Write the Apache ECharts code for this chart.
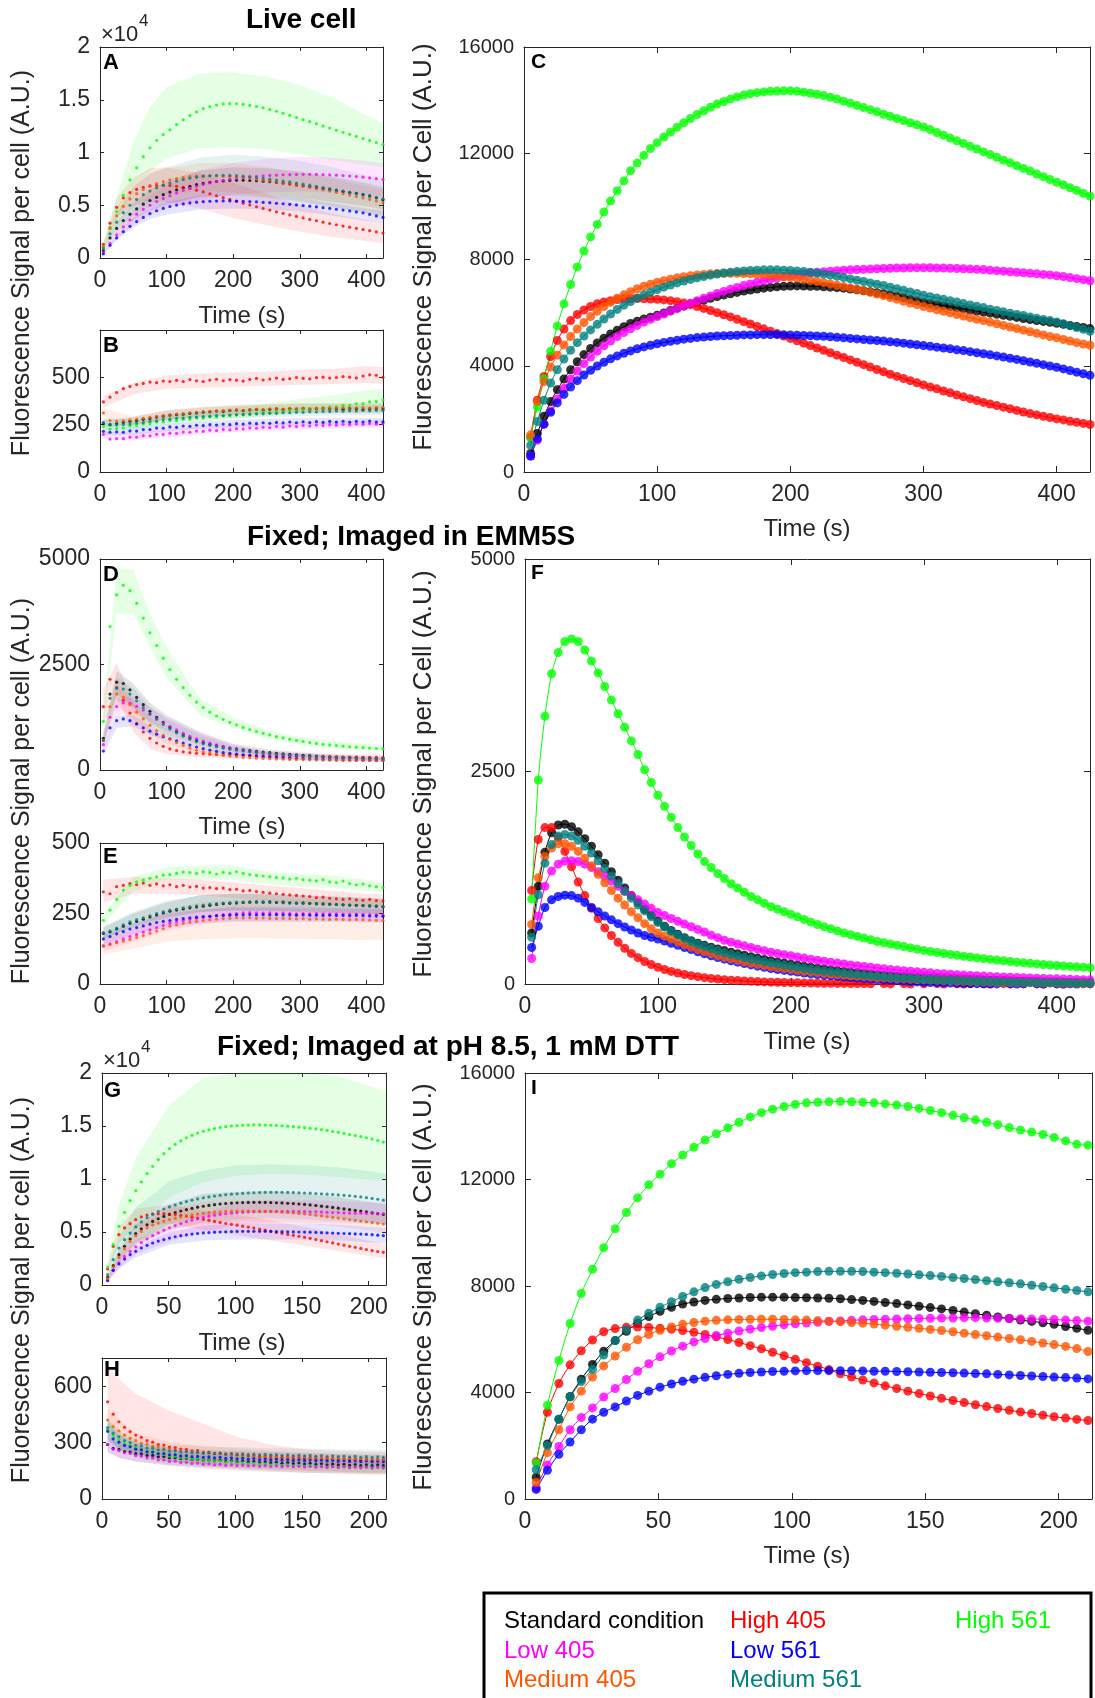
<!DOCTYPE html>
<html><head><meta charset="utf-8">
<script src="https://cdn.jsdelivr.net/npm/echarts/dist/echarts.min.js"></script>
<style>html,body{margin:0;padding:0;background:#fff}#c{width:1095px;height:1698px}</style>
</head><body><div id="c"></div><script>
// ---------- time grids ----------
const T5 = [5,10,15,20,25,30,35,40,45,50,55,60,65,70,75,80,85,90,95,100,105,110,115,120,125,130,135,140,145,150,155,160,165,170,175,180,185,190,195,200,205,210,215,220,225,230,235,240,245,250,255,260,265,270,275,280,285,290,295,300,305,310,315,320,325,330,335,340,345,350,355,360,365,370,375,380,385,390,395,400,405,410,415,420,425];
const T10 = [5,15,25,35,45,55,65,75,85,95,105,115,125,135,145,155,165,175,185,195,205,215,225,235,245,255,265,275,285,295,305,315,325,335,345,355,365,375,385,395,405,415,425];
const T42 = [4.2,8.4,12.7,16.9,21.1,25.3,29.5,33.8,38,42.2,46.4,50.6,54.9,59.1,63.3,67.5,71.7,76,80.2,84.4,88.6,92.8,97.1,101.3,105.5,109.7,113.9,118.2,122.4,126.6,130.8,135,139.3,143.5,147.7,151.9,156.1,160.4,164.6,168.8,173,177.2,181.5,185.7,189.9,194.1,198.3,202.6,206.8,211];
const BT12 = [5,25,50,75,100,150,200,250,300,350,400,425];
const BT10 = [5,50,100,150,200,250,300,350,400,425];
const BT11 = [4.2,12.7,25.3,50.6,76,101.3,126.6,151.9,177.2,202.6,213];

// ---------- Panel A: live cell, mean signal ----------
const A_BLACK = [700,1900,2800,3550,4150,4650,5100,5450,5750,6000,6250,6450,6650,6800,6950,7070,7170,7250,7310,7350,7370,7370,7350,7320,7280,7230,7170,7100,7020,6930,6850,6760,6670,6580,6490,6390,6300,6200,6120,6000,5880,5700,5520];
const A_RED = [1300,3300,4800,5700,6200,6500,6700,6830,6890,6900,6870,6800,6700,6580,6430,6260,6080,5900,5720,5550,5370,5200,5030,4860,4700,4540,4380,4230,4080,3940,3800,3660,3530,3400,3270,3150,3030,2920,2810,2700,2590,2480,2370];
const A_GREEN = [1000,2900,4400,5950,7400,8550,9600,10450,11150,11700,12150,12650,13100,13500,13850,14150,14350,14500,14600,14630,14620,14560,14470,14360,14230,14080,13910,13720,13520,13310,13110,12920,12730,12520,12320,12110,11910,11720,11530,11320,11130,10950,10770];
const A_MAGENTA = [500,1400,2200,2950,3600,4150,4600,5000,5350,5650,5900,6150,6400,6600,6800,6970,7120,7250,7370,7470,7560,7630,7690,7740,7790,7830,7860,7890,7910,7920,7930,7930,7920,7900,7880,7850,7810,7770,7720,7660,7590,7520,7450];
const A_BLUE = [400,1200,1900,2500,3000,3450,3850,4200,4480,4700,4880,5020,5130,5220,5290,5340,5380,5400,5410,5410,5400,5380,5350,5320,5280,5240,5190,5140,5090,5030,4970,4910,4840,4770,4700,4620,4540,4460,4370,4280,4130,3990,3850];
const A_ORANGE = [1100,2800,4000,4900,5600,6100,6500,6800,7050,7250,7400,7530,7630,7710,7760,7790,7800,7790,7760,7720,7670,7610,7540,7460,7380,7290,7200,7100,7000,6900,6800,6690,6580,6460,6340,6220,6090,5960,5830,5690,5550,5400,5250];
const A_TEAL = [900,2300,3400,4300,5000,5550,6000,6350,6650,6900,7100,7280,7430,7560,7660,7740,7790,7820,7840,7830,7800,7760,7700,7630,7550,7470,7390,7300,7210,7110,7010,6900,6790,6680,6570,6460,6350,6230,6110,5990,5860,5730,5600];
const A_BLACK_LO = [600,2400,3600,4500,5000,5800,6100,6000,5700,5300,4900,4600];
const A_BLACK_HI = [800,3400,5200,6500,7300,8300,8600,8500,8200,7700,7100,6700];
const A_RED_LO = [1100,3900,5000,5300,5300,4700,3800,3100,2500,2000,1600,1400];
const A_RED_HI = [1500,5700,7600,8500,8600,8000,7100,6100,5000,4200,3600,3300];
const A_GREEN_LO = [700,3500,6200,8200,9400,10400,10500,10300,9800,9300,8800,8600];
const A_GREEN_HI = [1300,5800,11000,14300,16200,17500,17600,17200,16400,15200,13500,12800];
const A_MAGENTA_LO = [400,1800,3100,4100,4700,5500,6000,6200,6300,6200,6000,5800];
const A_MAGENTA_HI = [600,2600,4500,5900,6900,8300,9000,9400,9600,9500,9200,9000];
const A_BLUE_LO = [300,1700,2900,3700,4100,4600,4700,4600,4400,4000,3500,3300];
const A_BLUE_HI = [500,2200,3800,4700,5300,5900,6100,6000,5700,5200,4700,4500];
const A_ORANGE_LO = [900,3200,4800,5600,6000,6400,6200,5800,5400,4800,4200,3900];
const A_ORANGE_HI = [1300,4800,6800,8000,8500,9000,9000,8600,8100,7500,6800,6500];
const A_TEAL_LO = [800,2800,4000,4800,5200,5800,5900,5700,5300,4800,4300,4000];
const A_TEAL_HI = [1100,4200,6600,8000,8600,9500,9800,9600,9200,8600,7800,7300];

// ---------- Panel B: live cell, background ----------
const B_BLACK = [255,250,255,262,268,272,278,283,290,295,300,303,305,310,312,316,318,322,320,325,327,324,328,330,327,331,333,330,334,332,335,331,334,336,333,335,332,336,334,330,333,335,333];
const B_RED = [370,395,420,440,452,462,468,475,472,480,478,484,478,488,482,478,486,490,482,488,485,480,489,494,486,491,496,489,493,499,495,492,498,501,496,499,504,501,497,507,513,511,500];
const B_GREEN = [240,226,230,233,244,246,254,256,264,264,272,271,279,278,286,285,292,291,298,297,303,302,309,308,315,314,320,319,326,325,332,331,338,337,344,344,352,352,360,361,370,372,380];
const B_MAGENTA = [198,174,176,176,184,184,192,191,199,198,205,204,211,210,216,215,221,219,225,223,229,227,233,231,236,234,240,237,243,240,245,243,248,245,250,247,252,249,254,251,256,253,256];
const B_BLUE = [215,210,212,210,217,216,224,224,232,231,238,236,243,241,247,245,250,248,253,250,255,253,258,255,260,257,262,259,264,260,265,261,266,262,267,263,268,263,268,264,269,264,265];
const B_ORANGE = [312,272,268,270,275,280,284,288,294,298,300,306,308,312,315,318,320,322,324,326,328,326,330,332,329,333,335,332,336,334,338,335,337,339,336,338,340,337,339,341,338,340,342];
const B_TEAL = [262,250,249,252,253,259,261,268,270,277,279,284,285,289,290,293,294,298,297,301,302,304,304,307,307,310,310,313,313,316,315,318,317,320,319,322,321,323,322,325,323,326,325];
const B_BLACK_LO = [235,245,275,290,300,305,310,310,310,310];
const B_BLACK_HI = [275,290,325,340,350,355,360,360,360,360];
const B_RED_LO = [340,410,440,445,450,455,460,465,470,465];
const B_RED_HI = [400,470,510,520,525,530,540,545,560,555];
const B_GREEN_LO = [220,225,245,265,280,295,310,320,330,335];
const B_GREEN_HI = [260,270,295,320,340,360,385,405,430,440];
const B_MAGENTA_LO = [175,165,185,200,210,218,225,230,235,235];
const B_MAGENTA_HI = [215,205,225,240,250,258,265,270,275,275];
const B_BLUE_LO = [195,195,215,228,235,240,245,245,245,245];
const B_BLUE_HI = [235,235,255,268,275,280,285,285,285,285];
const B_ORANGE_LO = [290,250,280,295,305,310,315,315,318,320];
const B_ORANGE_HI = [335,295,325,345,355,360,365,365,368,370];
const B_TEAL_LO = [240,230,260,275,285,290,295,298,300,300];
const B_TEAL_HI = [285,275,305,320,330,335,340,345,348,350];

// ---------- Panel C: live cell, fitted ----------
const C_BLACK = [700,1450,2100,2650,3100,3500,3850,4150,4420,4650,4860,5040,5200,5340,5470,5590,5680,5760,5830,5900,5990,6080,6170,6250,6330,6400,6470,6540,6600,6660,6710,6760,6810,6850,6890,6920,6950,6970,6990,7000,7005,7000,6995,6990,6975,6960,6940,6920,6890,6860,6825,6790,6750,6710,6665,6620,6560,6500,6440,6380,6340,6300,6260,6220,6180,6140,6100,6060,6020,5980,5940,5900,5860,5820,5780,5740,5705,5670,5635,5600,5560,5520,5480,5440,5400];
const C_RED = [1300,2700,3600,4350,4950,5380,5700,5930,6100,6230,6330,6400,6450,6490,6520,6530,6530,6520,6510,6500,6480,6450,6410,6360,6300,6230,6160,6080,6000,5920,5840,5750,5660,5570,5480,5390,5300,5210,5120,5030,4940,4850,4760,4670,4580,4490,4400,4310,4220,4130,4040,3950,3860,3770,3680,3600,3520,3440,3360,3280,3200,3130,3050,2980,2900,2830,2760,2690,2620,2560,2500,2440,2380,2320,2260,2200,2150,2100,2050,2000,1960,1910,1870,1830,1790];
const C_GREEN = [1300,2450,3500,4550,5500,6330,7060,7720,8320,8850,9320,9790,10200,10590,10960,11340,11630,11920,12180,12400,12610,12800,12980,13150,13310,13460,13600,13730,13850,13950,14040,14120,14190,14240,14280,14310,14330,14340,14350,14350,14330,14300,14260,14220,14170,14110,14040,13960,13880,13800,13720,13640,13560,13470,13390,13310,13230,13150,13070,12990,12890,12780,12680,12570,12470,12370,12260,12160,12050,11950,11850,11740,11640,11530,11430,11330,11220,11120,11010,10910,10810,10700,10600,10490,10390];
const C_MAGENTA = [600,1200,1800,2300,2750,3150,3500,3800,4080,4330,4550,4750,4930,5100,5250,5390,5520,5640,5750,5850,5950,6050,6150,6250,6350,6450,6540,6630,6720,6800,6880,6950,7020,7080,7140,7200,7250,7300,7350,7390,7430,7460,7490,7520,7540,7560,7580,7600,7610,7620,7630,7640,7650,7660,7670,7680,7680,7690,7690,7690,7690,7680,7680,7670,7660,7650,7640,7630,7620,7600,7580,7560,7540,7520,7500,7480,7460,7440,7420,7390,7360,7320,7280,7240,7200];
const C_BLUE = [600,1250,1800,2250,2600,2920,3200,3440,3650,3830,3990,4130,4260,4370,4470,4560,4640,4710,4770,4830,4880,4920,4960,5000,5030,5060,5080,5100,5120,5130,5140,5150,5160,5160,5170,5170,5170,5170,5170,5160,5150,5140,5130,5120,5110,5090,5070,5050,5030,5010,4990,4970,4950,4930,4900,4880,4850,4820,4790,4760,4730,4700,4670,4640,4600,4570,4530,4490,4450,4410,4370,4330,4280,4240,4190,4140,4090,4040,3990,3940,3880,3820,3760,3700,3640];
const C_ORANGE = [1400,2650,3400,3950,4400,4780,5100,5380,5630,5850,6050,6230,6390,6540,6670,6790,6900,6990,7070,7140,7200,7260,7310,7350,7390,7420,7440,7460,7470,7480,7480,7480,7470,7460,7450,7430,7410,7390,7360,7330,7300,7260,7220,7180,7130,7080,7030,6980,6930,6880,6820,6760,6700,6640,6570,6500,6430,6360,6300,6230,6170,6110,6050,5990,5930,5870,5810,5750,5700,5640,5580,5520,5460,5400,5340,5280,5220,5160,5100,5050,4990,4930,4870,4820,4770];
const C_TEAL = [1000,1900,2700,3350,3850,4250,4580,4870,5120,5350,5560,5760,5950,6120,6280,6420,6550,6670,6770,6870,6960,7040,7120,7190,7250,7310,7360,7410,7450,7490,7520,7550,7570,7590,7600,7610,7610,7610,7600,7590,7570,7550,7520,7490,7450,7410,7370,7320,7270,7220,7170,7120,7070,7020,6960,6900,6840,6780,6720,6650,6600,6550,6500,6450,6400,6340,6290,6240,6190,6130,6080,6030,5980,5930,5890,5840,5790,5740,5700,5650,5580,5510,5440,5370,5300];

// ---------- Panel D: EMM5S, mean signal ----------
const D_BLACK = [750,1800,2080,2050,1900,1720,1550,1390,1250,1130,1010,910,830,760,700,650,610,580,550,520,500,480,460,440,425,410,395,380,370,360,350,340,330,320,310,305,300,295,290,285,280,275,270];
const D_RED = [1500,2150,1950,1650,1350,1100,900,750,640,560,500,460,430,410,395,385,375,368,362,357,352,348,344,340,337,334,331,328,325,322,320,318,316,314,312,310,308,306,304,302,300,298,296];
const D_GREEN = [1150,3400,4150,4380,4250,3950,3600,3250,2950,2650,2380,2150,1950,1770,1610,1480,1370,1280,1200,1130,1070,1010,960,910,870,830,790,760,730,700,675,650,630,610,595,580,565,550,540,530,520,510,500];
const D_MAGENTA = [600,1250,1500,1590,1580,1510,1420,1320,1220,1120,1030,950,870,800,740,685,635,595,555,520,490,465,440,420,400,385,370,357,345,335,325,317,310,303,297,292,287,283,279,276,273,270,268];
const D_BLUE = [450,1000,1170,1210,1170,1090,1000,920,850,790,740,690,640,590,545,505,470,440,415,395,375,360,345,330,318,307,297,288,280,273,266,260,255,250,246,242,239,236,233,231,229,227,225];
const D_ORANGE = [700,1500,1800,1720,1550,1370,1210,1060,930,820,730,650,580,520,470,430,400,370,350,330,315,300,290,280,272,265,260,255,250,247,244,241,238,236,234,232,230,229,228,227,226,225,225];
const D_TEAL = [700,1700,1940,1920,1800,1640,1480,1330,1200,1080,970,880,800,730,670,620,580,545,515,490,470,450,430,415,400,385,370,360,350,340,330,322,315,308,300,295,290,285,280,276,272,268,265];
const D_BLACK_LO = [600,1800,1500,1100,900,620,440,360,310,270,250,240];
const D_BLACK_HI = [900,2350,2050,1600,1300,900,620,500,420,360,330,320];
const D_RED_LO = [1100,1700,900,500,380,300,270,250,240,230,220,220];
const D_RED_HI = [1900,2550,1600,1000,700,500,450,420,400,380,370,370];
const D_GREEN_LO = [1000,3700,3700,2900,2200,1300,1000,750,600,520,480,460];
const D_GREEN_HI = [1300,4800,4750,3700,2900,1700,1250,950,780,680,620,600];
const D_MAGENTA_LO = [450,1300,1350,1150,950,650,450,360,310,270,250,245];
const D_MAGENTA_HI = [750,1700,1750,1500,1250,880,600,450,380,330,300,295];
const D_BLUE_LO = [350,1000,1030,830,700,500,340,280,240,215,200,195];
const D_BLUE_HI = [550,1300,1300,1050,880,640,440,360,310,270,250,245];
const D_ORANGE_LO = [550,1550,1200,850,620,400,290,250,220,205,200,200];
const D_ORANGE_HI = [850,2000,1650,1250,950,620,400,330,290,270,260,255];
const D_TEAL_LO = [550,1650,1450,1050,850,580,420,340,295,265,250,240];
const D_TEAL_HI = [850,2200,1950,1500,1200,830,560,450,380,330,305,295];

// ---------- Panel E: EMM5S, background ----------
const E_BLACK = [179,185,195,205,215,222,230,238,245,252,258,262,266,270,273,276,279,282,285,286,287,289,290,291,290,291,289,290,288,287,288,286,285,284,283,282,281,280,279,278,277,276,274];
const E_RED = [327,320,345,350,356,352,358,350,355,348,352,345,350,344,346,340,342,338,340,335,336,330,332,328,325,322,320,318,316,314,312,310,306,308,304,302,300,302,298,297,300,296,294];
const E_GREEN = [226,262,300,333,350,362,368,375,380,386,388,392,397,395,392,398,395,390,396,393,398,392,388,385,383,380,378,376,372,375,370,368,366,370,362,360,365,356,352,355,348,345,342];
const E_MAGENTA = [135,142,150,160,168,175,184,192,200,208,215,220,225,229,233,236,240,243,246,248,250,252,253,252,251,252,250,251,250,249,250,249,250,249,248,249,248,247,248,247,246,246,245];
const E_BLUE = [160,168,178,186,195,200,206,212,218,222,225,229,232,235,237,239,240,242,243,244,245,245,246,245,246,245,246,245,245,244,245,244,244,243,244,243,243,242,243,242,241,241,240];
const E_ORANGE = [135,140,146,152,158,165,172,180,188,196,205,210,215,219,222,225,228,230,232,233,235,234,235,233,234,233,232,233,232,231,232,230,231,230,229,230,229,228,229,228,227,226,225];
const E_TEAL = [182,188,198,210,220,228,235,242,250,256,262,266,270,274,277,280,283,285,287,288,290,290,291,290,290,289,289,288,287,286,285,285,284,283,282,281,280,279,278,278,277,276,275];
const E_BLACK_LO = [160,200,235,255,260,258,255,250,248,245];
const E_BLACK_HI = [200,250,290,315,320,318,315,310,305,302];
const E_RED_LO = [290,320,320,315,305,295,285,280,275,275];
const E_RED_HI = [370,380,375,370,360,350,340,330,320,318];
const E_GREEN_LO = [210,330,370,370,370,355,345,340,330,325];
const E_GREEN_HI = [245,380,415,420,420,400,390,385,370,360];
const E_MAGENTA_LO = [115,150,190,210,225,225,225,225,222,220];
const E_MAGENTA_HI = [160,195,240,260,275,275,275,272,270,270];
const E_BLUE_LO = [140,175,200,215,220,220,220,220,218,218];
const E_BLUE_HI = [180,215,250,265,270,270,268,268,265,265];
const E_ORANGE_LO = [105,125,150,158,162,162,160,158,155,155];
const E_ORANGE_HI = [170,205,260,290,300,300,300,298,296,295];
const E_TEAL_LO = [160,205,240,255,262,260,258,255,252,250];
const E_TEAL_HI = [205,255,295,315,320,320,315,310,305,302];

// ---------- Panel F: EMM5S, fitted ----------
const F_BLACK = [600,1150,1550,1780,1870,1880,1850,1790,1710,1620,1520,1420,1320,1220,1130,1040,960,880,810,740,680,630,585,545,510,480,455,432,412,393,374,356,338,321,305,289,274,260,246,233,220,208,197,186,176,166,157,148,140,132,124,117,110,104,98,92,87,82,77,73,69,65,61,58,55,52,49,46,44,41,39,37,35,33,31,29,28,26,25,23,22,21,20,19,18];
const F_RED = [1100,1700,1840,1840,1720,1560,1380,1200,1040,890,770,660,570,490,420,360,310,265,228,196,170,148,128,112,98,86,75,66,58,51,45,40,35,31,28,25,22,20,18,16,14,13,11,10,9,8,7,7,6,5,6,2,-4,5,1,-3,4,0,-6,3,-2,5,0,-5,3,-1,4,-4,2,0,-3,4,1,-5,2,-2,5,0,-4,3,-1,4,-3,2,6];
const F_GREEN = [1000,2400,3150,3650,3900,4030,4060,4030,3930,3800,3660,3500,3340,3180,3020,2860,2700,2520,2370,2220,2090,1960,1840,1730,1630,1530,1440,1370,1300,1240,1180,1130,1080,1030,990,950,910,880,850,820,790,760,730,700,675,650,625,600,580,560,540,520,500,485,470,455,440,425,410,395,383,371,359,348,337,327,317,307,298,289,281,273,265,257,250,243,236,230,224,218,212,207,202,197,192];
const F_MAGENTA = [300,800,1150,1330,1410,1445,1450,1440,1410,1370,1320,1270,1210,1150,1090,1040,990,940,890,840,805,770,737,705,673,642,612,575,545,515,492,470,449,429,410,392,375,359,345,332,318,305,292,280,268,257,246,236,225,215,206,197,188,180,172,164,157,150,143,137,131,125,120,115,110,105,101,97,93,89,86,83,80,77,74,71,68,66,63,61,58,56,53,51,49];
const F_BLUE = [430,680,900,990,1030,1045,1040,1010,960,900,850,800,755,710,670,635,600,570,550,530,505,480,455,430,405,380,355,333,312,292,274,257,240,225,210,196,183,171,160,150,140,130,121,112,104,96,89,82,75,69,63,58,53,48,44,40,36,30,25,20,18,16,14,12,10,8,6,4,3,2,1,-2,3,-1,2,-3,1,0,-2,1,-1,2,0,-2,1];
const F_ORANGE = [700,1250,1500,1600,1650,1650,1620,1560,1480,1390,1290,1190,1100,1010,930,850,780,710,650,600,562,527,494,463,434,406,381,357,334,313,295,278,262,247,232,219,206,194,183,172,161,151,142,134,125,118,110,104,97,91,86,81,76,72,67,63,60,56,53,50,46,43,39,36,33,31,28,26,24,22,21,19,18,16,15,14,13,12,11,10,9,9,8,8,7];
const F_TEAL = [550,1050,1420,1640,1740,1760,1740,1690,1620,1540,1450,1360,1270,1180,1090,1010,930,860,790,725,670,620,575,535,500,468,440,414,390,368,348,329,311,294,278,263,248,234,221,208,196,185,174,164,154,145,136,128,120,112,105,98,92,86,80,75,70,65,61,57,53,49,46,43,40,37,35,32,30,28,26,24,22,21,19,18,17,16,15,14,13,12,11,10,10];

// ---------- Panel G: pH 8.5 + DTT, mean signal ----------
const G_BLACK = [720,1820,2860,3650,4340,4840,5300,5680,6000,6250,6470,6660,6830,6980,7110,7230,7340,7430,7510,7580,7640,7690,7730,7760,7780,7790,7800,7800,7790,7780,7760,7740,7710,7680,7640,7600,7550,7500,7440,7380,7320,7250,7180,7110,7040,6970,6890,6810,6730,6650];
const G_RED = [1510,3650,4750,5380,5790,6160,6420,6600,6700,6730,6730,6700,6650,6580,6500,6400,6300,6200,6100,6000,5900,5800,5720,5640,5550,5460,5370,5270,5170,5070,4970,4870,4770,4690,4600,4500,4400,4290,4180,4080,3970,3860,3760,3650,3550,3450,3350,3250,3160,3080];
const G_GREEN = [1700,3800,5540,6860,7960,8900,9720,10500,11200,11830,12390,12860,13260,13600,13880,14120,14330,14500,14640,14760,14860,14940,15000,15040,15070,15090,15100,15100,15090,15070,15050,15020,14980,14940,14890,14840,14780,14720,14660,14590,14480,14400,14300,14200,14100,14000,13890,13770,13640,13480];
const G_MAGENTA = [400,1400,2100,2700,3180,3600,4000,4350,4650,4920,5170,5400,5610,5800,5970,6120,6260,6380,6490,6580,6660,6720,6780,6820,6860,6890,6910,6930,6940,6950,6950,6950,6950,6940,6930,6920,6910,6900,6880,6860,6840,6820,6800,6790,6780,6770,6760,6750,6740,6730];
const G_BLUE = [440,1380,1980,2450,2860,3180,3490,3740,3960,4140,4290,4430,4550,4650,4730,4800,4860,4910,4950,4980,5000,5020,5040,5050,5060,5060,5060,5060,5060,5050,5040,5030,5020,5010,5000,4990,4980,4960,4940,4920,4900,4880,4860,4840,4820,4800,4780,4750,4700,4650];
const G_ORANGE = [600,1700,2600,3400,4100,4650,5050,5400,5650,5850,6020,6170,6300,6420,6520,6610,6690,6760,6820,6870,6910,6940,6960,6970,6980,6980,6970,6960,6950,6930,6910,6880,6850,6810,6760,6710,6650,6590,6520,6450,6380,6310,6240,6170,6100,6030,5960,5890,5820,5750];
const G_TEAL = [980,2390,3490,4280,4900,5480,5950,6350,6680,6950,7170,7370,7550,7720,7870,8000,8120,8220,8310,8390,8460,8520,8570,8610,8650,8680,8700,8720,8730,8740,8740,8740,8730,8720,8700,8680,8660,8630,8600,8570,8540,8500,8460,8420,8370,8310,8240,8170,8090,8000];
const G_BLACK_LO = [500,2200,4000,5700,6500,6800,6800,6600,6300,5900,5700];
const G_BLACK_HI = [900,3400,5700,7600,8600,8800,8900,8600,8300,7800,7600];
const G_RED_LO = [1200,4000,5400,5800,5200,4700,4200,3700,3200,2700,2500];
const G_RED_HI = [1800,5500,7200,7600,7000,6600,6100,5500,4800,4100,3800];
const G_GREEN_LO = [1200,3500,5500,8300,9700,10300,10500,10400,10200,9900,9800];
const G_GREEN_HI = [2200,7600,12000,17000,19500,20000,20000,20000,19700,18700,18200];
const G_MAGENTA_LO = [250,1600,2900,4100,5000,5700,5900,5900,5800,5800,5700];
const G_MAGENTA_HI = [550,2600,4300,5500,6800,7800,8000,8000,7900,7800,7800];
const G_BLUE_LO = [300,1500,2600,3800,4200,4300,4300,4300,4200,4000,3900];
const G_BLUE_HI = [600,2400,3600,5000,5600,5800,5800,5800,5700,5500,5400];
const G_ORANGE_LO = [400,2000,3800,5200,5800,6000,6000,5800,5500,5100,4900];
const G_ORANGE_HI = [800,3200,5500,7100,7800,8000,8000,7800,7400,6900,6700];
const G_TEAL_LO = [700,2400,3800,5200,5900,6200,6300,6200,6000,5800,5700];
const G_TEAL_HI = [1300,4500,7300,9800,10800,11300,11400,11300,11100,10700,10500];

// ---------- Panel H: pH 8.5 + DTT, background ----------
const H_BLACK = [290,270,264,252,250,241,240,232,232,225,226,219,220,214,216,210,212,206,208,203,206,200,203,198,201,196,199,194,197,192,195,190,193,188,191,186,189,184,187,182,185,181,184,179,183,178,182,177,181,178];
const H_RED = [517,451,411,381,358,340,328,310,302,290,287,276,274,266,264,256,257,248,249,242,244,238,240,234,235,230,232,226,228,223,226,220,224,218,222,215,220,213,218,212,216,210,214,208,213,206,212,205,210,208];
const H_GREEN = [370,338,317,296,286,270,264,252,249,238,237,228,227,219,219,212,213,206,207,201,202,196,198,192,194,188,190,185,187,182,184,179,182,176,179,174,177,172,175,170,173,168,171,166,170,165,168,164,167,163];
const H_MAGENTA = [290,264,257,246,242,231,228,218,217,208,208,200,201,194,195,189,191,185,187,182,184,179,182,177,180,176,178,174,177,173,176,172,175,171,174,170,173,169,172,168,172,168,171,167,170,167,170,166,169,167];
const H_BLUE = [360,320,302,285,278,265,261,251,250,242,242,235,236,229,231,225,227,222,224,219,222,216,219,214,217,212,215,210,213,208,212,207,210,205,209,204,207,203,206,202,205,201,204,200,203,199,202,198,201,198];
const H_ORANGE = [420,385,362,340,322,310,296,292,280,278,268,268,260,260,253,254,248,250,244,246,240,242,236,240,233,237,230,235,228,232,226,230,224,228,222,226,220,224,218,222,216,220,214,218,212,216,210,214,209,212];
const H_TEAL = [380,350,332,310,300,286,282,271,270,262,262,255,256,250,252,246,248,243,246,241,244,239,242,237,240,235,239,234,237,233,236,231,235,230,233,229,232,227,231,226,229,225,228,223,227,222,225,221,224,221];
const H_BLACK_LO = [250,220,200,180,170,165,158,150,145,140,140];
const H_BLACK_HI = [330,300,280,260,245,235,225,220,215,210,210];
const H_RED_LO = [330,280,240,200,175,160,150,140,135,130,128];
const H_RED_HI = [700,640,560,470,400,330,290,265,255,250,250];
const H_GREEN_LO = [320,260,220,185,165,155,145,140,135,130,130];
const H_GREEN_HI = [420,350,300,260,240,230,220,215,210,205,205];
const H_MAGENTA_LO = [250,220,200,175,160,150,145,140,138,135,135];
const H_MAGENTA_HI = [330,290,260,235,220,210,205,200,198,195,195];
const H_BLUE_LO = [310,260,230,200,185,180,175,170,168,165,165];
const H_BLUE_HI = [410,340,300,275,260,255,250,245,240,235,235];
const H_ORANGE_LO = [360,300,260,230,210,205,200,195,190,188,188];
const H_ORANGE_HI = [480,420,350,305,280,270,255,250,240,235,235];
const H_TEAL_LO = [330,270,240,215,205,200,195,190,185,182,180];
const H_TEAL_HI = [430,360,320,290,280,275,270,268,265,262,262];

// ---------- Panel I: pH 8.5 + DTT, fitted ----------
const I_BLACK = [820,2070,3000,3850,4500,5050,5550,5950,6300,6600,6850,7050,7200,7320,7400,7460,7500,7530,7550,7570,7580,7580,7580,7570,7560,7550,7540,7520,7490,7460,7420,7380,7340,7290,7240,7190,7140,7080,7020,6960,6900,6840,6780,6720,6670,6620,6560,6480,6410,6340];
const I_RED = [1400,3260,4340,5040,5570,5970,6280,6400,6450,6460,6440,6410,6380,6330,6260,6180,6090,5990,5880,5760,5640,5510,5380,5250,5120,4990,4860,4700,4580,4470,4360,4250,4150,4050,3960,3870,3780,3700,3620,3540,3470,3400,3330,3270,3210,3150,3090,3040,2990,2950];
const I_GREEN = [1350,3520,5200,6590,7720,8630,9440,10150,10760,11310,11800,12200,12590,12920,13210,13480,13720,13940,14150,14350,14510,14640,14740,14820,14880,14900,14920,14930,14920,14900,14880,14840,14800,14740,14670,14590,14510,14410,14320,14240,14150,14060,13950,13860,13780,13690,13580,13450,13320,13290];
const I_MAGENTA = [420,1280,1970,2600,3060,3420,3830,4150,4490,4800,5080,5340,5560,5740,5900,6030,6140,6230,6310,6380,6440,6490,6540,6580,6610,6640,6670,6690,6710,6730,6740,6750,6760,6770,6780,6790,6800,6800,6810,6810,6800,6790,6780,6770,6760,6750,6740,6720,6700,6680];
const I_BLUE = [360,1080,1680,2140,2600,3000,3260,3460,3680,3890,4050,4200,4320,4420,4500,4570,4630,4680,4720,4750,4770,4790,4800,4810,4820,4820,4820,4820,4820,4810,4800,4800,4790,4780,4770,4760,4750,4740,4730,4710,4700,4680,4660,4640,4620,4600,4580,4560,4540,4510];
const I_ORANGE = [620,1740,2600,3460,4050,4580,5000,5370,5700,5980,6180,6340,6460,6560,6630,6680,6710,6730,6740,6750,6750,6750,6740,6730,6720,6700,6680,6660,6630,6600,6570,6530,6490,6450,6410,6370,6330,6280,6230,6180,6130,6080,6030,5980,5920,5860,5800,5730,5650,5540];
const I_TEAL = [1100,2010,3000,3830,4410,4870,5410,5950,6360,6720,6980,7200,7410,7610,7780,7940,8060,8160,8250,8320,8380,8430,8470,8500,8520,8540,8550,8550,8550,8540,8520,8500,8480,8450,8420,8390,8360,8320,8280,8240,8200,8160,8120,8080,8030,7980,7930,7880,7830,7780];

// ---------- labels ----------
const CONDITIONS = ['Standard condition','High 405','High 561','Low 405','Low 561','Medium 405','Medium 561'];
const COLORS = ['#000000','#FF0000','#00FF00','#FF00FF','#0000FF','#FF5500','#008080'];
const TITLES = ['Live cell','Fixed; Imaged in EMM5S','Fixed; Imaged at pH 8.5, 1 mM DTT'];
const Y_LABEL_LEFT = 'Fluorescence Signal per cell (A.U.)';
const Y_LABEL_RIGHT = 'Fluorescence Signal per Cell (A.U.)';
const X_LABEL = 'Time (s)';

// ---------- build ----------
const FONT = '"Liberation Sans", Arial, Helvetica, sans-serif';
const AX = '#262626';
const fx100 = v => (v % 100 === 0 ? String(v) : '');
const fx50 = v => (v % 50 === 0 ? String(v) : '');
const fy1e4 = v => (v % 5000 === 0 ? String(v / 10000) : '');
const fyPlain = (step) => v => (v % step === 0 ? String(v) : '');

const PANELS = [
  {L:'A', box:[100,47,283,211], xmax:425, xint:100, xf:fx100, ymax:20000, yint:5000, yf:fy1e4, kind:'mean', t:T10,
   v:[A_BLACK,A_RED,A_GREEN,A_MAGENTA,A_BLUE,A_ORANGE,A_TEAL], bt:BT12,
   lo:[A_BLACK_LO,A_RED_LO,A_GREEN_LO,A_MAGENTA_LO,A_BLUE_LO,A_ORANGE_LO,A_TEAL_LO],
   hi:[A_BLACK_HI,A_RED_HI,A_GREEN_HI,A_MAGENTA_HI,A_BLUE_HI,A_ORANGE_HI,A_TEAL_HI]},
  {L:'B', box:[100,330,283,142], xmax:425, xint:100, xf:fx100, ymax:750, yint:250, yf:v=>(v===750?'':String(v)), kind:'mean', t:T10,
   v:[B_BLACK,B_RED,B_GREEN,B_MAGENTA,B_BLUE,B_ORANGE,B_TEAL], bt:BT10,
   lo:[B_BLACK_LO,B_RED_LO,B_GREEN_LO,B_MAGENTA_LO,B_BLUE_LO,B_ORANGE_LO,B_TEAL_LO],
   hi:[B_BLACK_HI,B_RED_HI,B_GREEN_HI,B_MAGENTA_HI,B_BLUE_HI,B_ORANGE_HI,B_TEAL_HI]},
  {L:'C', box:[524,47,566,425], xmax:425, xint:100, xf:fx100, ymax:16000, yint:4000, yf:fyPlain(4000), kind:'fit', t:T5,
   v:[C_BLACK,C_RED,C_GREEN,C_MAGENTA,C_BLUE,C_ORANGE,C_TEAL]},
  {L:'D', box:[100,559,283,211], xmax:425, xint:100, xf:fx100, ymax:5000, yint:2500, yf:fyPlain(2500), kind:'mean', t:T10,
   v:[D_BLACK,D_RED,D_GREEN,D_MAGENTA,D_BLUE,D_ORANGE,D_TEAL], bt:BT12,
   lo:[D_BLACK_LO,D_RED_LO,D_GREEN_LO,D_MAGENTA_LO,D_BLUE_LO,D_ORANGE_LO,D_TEAL_LO],
   hi:[D_BLACK_HI,D_RED_HI,D_GREEN_HI,D_MAGENTA_HI,D_BLUE_HI,D_ORANGE_HI,D_TEAL_HI]},
  {L:'E', box:[100,843,283,141], xmax:425, xint:100, xf:fx100, ymax:500, yint:250, yf:fyPlain(250), kind:'mean', t:T10,
   v:[E_BLACK,E_RED,E_GREEN,E_MAGENTA,E_BLUE,E_ORANGE,E_TEAL], bt:BT10,
   lo:[E_BLACK_LO,E_RED_LO,E_GREEN_LO,E_MAGENTA_LO,E_BLUE_LO,E_ORANGE_LO,E_TEAL_LO],
   hi:[E_BLACK_HI,E_RED_HI,E_GREEN_HI,E_MAGENTA_HI,E_BLUE_HI,E_ORANGE_HI,E_TEAL_HI]},
  {L:'F', box:[525,559,565,425], xmax:425, xint:100, xf:fx100, ymax:5000, yint:2500, yf:fyPlain(2500), kind:'fit', t:T5,
   v:[F_BLACK,F_RED,F_GREEN,F_MAGENTA,F_BLUE,F_ORANGE,F_TEAL]},
  {L:'G', box:[102,1073,284,212], xmax:213, xint:50, xf:fx50, ymax:20000, yint:5000, yf:fy1e4, kind:'mean', t:T42,
   v:[G_BLACK,G_RED,G_GREEN,G_MAGENTA,G_BLUE,G_ORANGE,G_TEAL], bt:BT11,
   lo:[G_BLACK_LO,G_RED_LO,G_GREEN_LO,G_MAGENTA_LO,G_BLUE_LO,G_ORANGE_LO,G_TEAL_LO],
   hi:[G_BLACK_HI,G_RED_HI,G_GREEN_HI,G_MAGENTA_HI,G_BLUE_HI,G_ORANGE_HI,G_TEAL_HI]},
  {L:'H', box:[102,1358,284,141], xmax:213, xint:50, xf:fx50, ymax:750, yint:300, yf:v=>(v===750?'':String(v)), kind:'mean', t:T42,
   v:[H_BLACK,H_RED,H_GREEN,H_MAGENTA,H_BLUE,H_ORANGE,H_TEAL], bt:BT11,
   lo:[H_BLACK_LO,H_RED_LO,H_GREEN_LO,H_MAGENTA_LO,H_BLUE_LO,H_ORANGE_LO,H_TEAL_LO],
   hi:[H_BLACK_HI,H_RED_HI,H_GREEN_HI,H_MAGENTA_HI,H_BLUE_HI,H_ORANGE_HI,H_TEAL_HI]},
  {L:'I', box:[525,1073,567,426], xmax:212.5, xint:50, xf:fx50, ymax:16000, yint:4000, yf:fyPlain(4000), kind:'fit', t:T42,
   v:[I_BLACK,I_RED,I_GREEN,I_MAGENTA,I_BLUE,I_ORANGE,I_TEAL]}
];

function mkAxis(gi, pos, max, interval, showLabel, fmt, tickLen, isX, fs) {
  return {
    type:'value', gridIndex:gi, position:pos, min:0, max:max, interval:interval, scale:false,
    axisLine:{show:true, onZero:false, lineStyle:{color:AX, width:1}},
    axisTick:{show:true, inside:true, length:tickLen, lineStyle:{color:AX, width:1}},
    minorTick:{show:false}, splitLine:{show:false}, splitArea:{show:false},
    axisLabel:{show:showLabel, formatter:fmt, color:AX, fontSize:fs, fontFamily:FONT, margin: isX ? 11 : 10,
      showMinLabel:true, showMaxLabel:true, hideOverlap:false}
  };
}

function toRGBA(hex, a) {
  const r = parseInt(hex.slice(1,3),16), g = parseInt(hex.slice(3,5),16), b = parseInt(hex.slice(5,7),16);
  return 'rgba(' + r + ',' + g + ',' + b + ',' + a + ')';
}

const grids = [], xAxes = [], yAxes = [], series = [];
PANELS.forEach((p, i) => {
  const [l, tp, w, h] = p.box;
  const fit = p.kind === 'fit';
  grids.push({left:l, top:tp, width:w, height:h, containLabel:false, outerBoundsMode:'none', show:false});
  const tl = fit ? 6 : 4;
  xAxes.push(mkAxis(i, 'bottom', p.xmax, p.xint, true, p.xf, tl, true, 23));
  xAxes.push(mkAxis(i, 'top', p.xmax, p.xint, false, p.xf, tl, true, 23));
  yAxes.push(mkAxis(i, 'left', p.ymax, p.yint, true, p.yf, tl, false, fit ? 20 : 23));
  yAxes.push(mkAxis(i, 'right', p.ymax, p.yint, false, p.yf, tl, false, 20));
  const xi = 2 * i;
  if (!fit) {
    p.v.forEach((vals, k) => {
      const bt = p.bt, lo = p.lo[k], hi = p.hi[k];
      series.push({
        type:'custom', xAxisIndex:xi, yAxisIndex:xi, silent:true, clip:true, z:1,
        data: bt.map((x, j) => [x, lo[j], hi[j]]),
        encode:{x:0, y:[1,2]},
        renderItem: (params, api) => {
          if (params.dataIndex !== 0) return null;
          const pts = [];
          for (let j = 0; j < bt.length; j++) pts.push(api.coord([bt[j], hi[j]]));
          for (let j = bt.length - 1; j >= 0; j--) pts.push(api.coord([bt[j], lo[j]]));
          return {type:'polygon', shape:{points:pts}, style:{fill:toRGBA(COLORS[k], 0.1), stroke:null}};
        }
      });
    });
    p.v.forEach((vals, k) => {
      series.push({
        type:'scatter', xAxisIndex:xi, yAxisIndex:xi, symbol:'circle', symbolSize:3.2, silent:true, z:3,
        itemStyle:{color:COLORS[k]}, data: p.t.map((x, j) => [x, vals[j]])
      });
    });
  } else {
    p.v.forEach((vals, k) => {
      series.push({
        type:'line', xAxisIndex:xi, yAxisIndex:xi, showSymbol:false, smooth:0.3, silent:true, z:2,
        lineStyle:{color:COLORS[k], width:1}, data: p.t.map((x, j) => [x, vals[j]])
      });
    });
    p.v.forEach((vals, k) => {
      series.push({
        type:'scatter', xAxisIndex:xi, yAxisIndex:xi, symbol:'circle', symbolSize:9, silent:true, z:3,
        itemStyle:{color:COLORS[k]}, data: p.t.map((x, j) => [x, vals[j]])
      });
    });
  }
});

function txt(x, y, s, size, o) {
  o = o || {};
  const el = {type:'text', x:x, y:y, silent:true, z:50,
    style:{text:s, fontSize:size, fontFamily:FONT, fontWeight:o.bold ? 'bold' : 'normal', fill:o.fill || AX,
      textAlign:o.align || 'left', textVerticalAlign:'middle', align:o.align || 'left', verticalAlign:'middle'}};
  if (o.rot) el.rotation = o.rot;
  return el;
}

const graphics = [];
// titles
graphics.push(txt(246, 20, TITLES[0], 28, {bold:true, fill:'#000'}));
graphics.push(txt(247, 537, TITLES[1], 28, {bold:true, fill:'#000'}));
graphics.push(txt(217, 1047, TITLES[2], 28, {bold:true, fill:'#000'}));
// y-axis titles
[263, 791, 1290].forEach(y => graphics.push(txt(22, y, Y_LABEL_LEFT, 25, {align:'center', rot:Math.PI/2})));
[247, 774, 1287].forEach(y => graphics.push(txt(424, y, Y_LABEL_RIGHT, 26, {align:'center', rot:Math.PI/2})));
// x-axis titles
[316, 827, 1343].forEach(y => graphics.push(txt(242, y, X_LABEL, 24, {align:'center'})));
[529, 1042, 1556].forEach(y => graphics.push(txt(807, y, X_LABEL, 24, {align:'center'})));
// panel letters
const LETTER_POS = [[103,63],[103,346],[531,62],[103,575],[103,857],[531,573],[104,1091],[104,1370],[531,1088]];
PANELS.forEach((p, i) => graphics.push(txt(LETTER_POS[i][0], LETTER_POS[i][1], p.L, p.kind === 'fit' ? 21 : 22, {bold:true, fill:'#000'})));
// x10^4 multipliers
graphics.push(txt(101, 35, '\u00d710', 22));
graphics.push(txt(139, 21, '4', 17));
graphics.push(txt(103, 1061, '\u00d710', 22));
graphics.push(txt(141, 1047, '4', 17));
// legend box
graphics.push({type:'rect', z:60, silent:true, shape:{x:484, y:1593, width:607, height:140}, style:{fill:'#ffffff', stroke:'#000000', lineWidth:3}});
const LEG_POS = [[504,1621],[730,1621],[955,1621],[504,1651],[730,1651],[504,1680],[730,1680]];
CONDITIONS.forEach((c, k) => {
  const el = txt(LEG_POS[k][0], LEG_POS[k][1], c, 24, {fill:COLORS[k]});
  el.z = 61;
  graphics.push(el);
});

const chart = echarts.init(document.getElementById('c'), null, {renderer:'canvas', width:1095, height:1698});
chart.setOption({
  animation:false,
  backgroundColor:'#ffffff',
  grid:grids, xAxis:xAxes, yAxis:yAxes, series:series,
  graphic:{elements:graphics}
});
</script></body></html>
